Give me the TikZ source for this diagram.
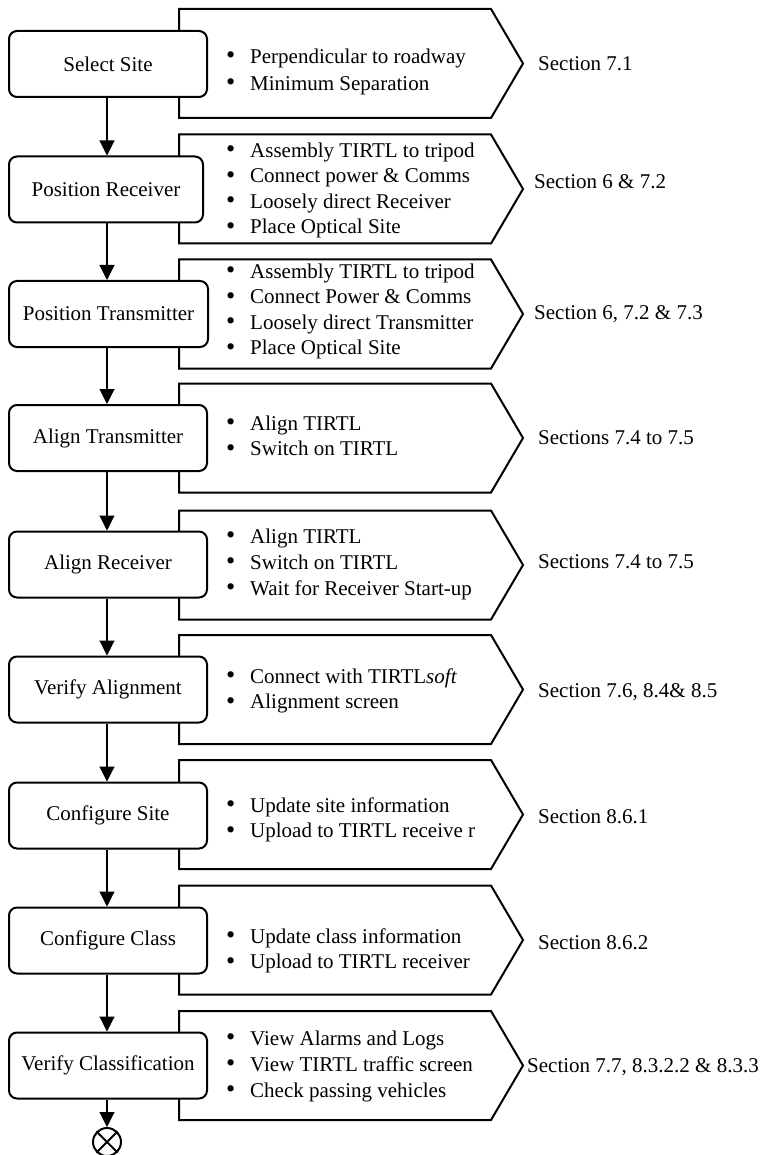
\documentclass[tikz,border=0pt]{standalone}
\usepackage{fontspec}
\setmainfont{Liberation Serif}
\usetikzlibrary{arrows.meta,calc}
\tikzset{
 stepbox/.style={draw, line width=2pt, fill=white, rounded corners=8pt, minimum height=66pt, inner sep=0pt, font=\fontsize{21}{25.5}\selectfont},
 chevron/.style={draw, line width=2pt, fill=white, line join=miter},
 blist/.style={anchor=north west, inner sep=0pt, align=left, font=\fontsize{21}{25.5}\selectfont},
 sect/.style={anchor=base west, inner sep=0pt, font=\fontsize{21}{25.5}\selectfont},
 flow/.style={draw, line width=1.1pt, -{Triangle[width=15pt,length=15pt]}},
 endmark/.style={draw, circle, line width=2pt, minimum size=28pt, inner sep=0pt},
}
\newcommand\bul{\makebox[24pt][l]{\raisebox{-0.5pt}{\scalebox{1.25}{\textbullet}}}}
\newcommand\fl{\rule{0pt}{16pt}}
\newcommand\chevshape[1]{\draw[chevron] (179,#1-54.5) -- (491,#1-54.5) -- (523,#1) -- (491,#1+54.5) -- (179,#1+54.5) -- cycle;}
\begin{document}
\begin{tikzpicture}[x=1pt,y=-1pt]
\useasboundingbox (0,0) rectangle (763,1155);

% row 1
\chevshape{63.5}
\node[stepbox, minimum width=198pt] (s1) at (108,64) {Select Site};
\node[blist, font=\fontsize{21}{26.7}\selectfont] (b1) at (226,63.3-16) {\fl\bul Perpendicular to roadway\\\bul Minimum Separation};
\node[sect] (t1) at (538,71) {Section 7.1};

% row 2
\chevshape{189}
\node[stepbox, minimum width=194pt] (s2) at (106,189.5) {Position Receiver};
\node[blist] (b2) at (226,157-16) {\fl\bul Assembly TIRTL to tripod\\\bul Connect power \& Comms\\\bul Loosely direct Receiver\\\bul Place Optical Site};
\node[sect] (t2) at (534,189) {Section 6 \& 7.2};

% row 3
\chevshape{314}
\node[stepbox, minimum width=199pt] (s3) at (108.5,314) {Position Transmitter};
\node[blist] (b3) at (226,278-16) {\fl\bul Assembly TIRTL to tripod\\\bul Connect Power \& Comms\\\bul Loosely direct Transmitter\\\bul Place Optical Site};
\node[sect] (t3) at (534,319) {Section 6, 7.2 \& 7.3};

% row 4
\chevshape{438}
\node[stepbox, minimum width=198pt] (s4) at (108,438) {Align Transmitter};
\node[blist] (b4) at (226,430-16) {\fl\bul Align TIRTL\\\bul Switch on TIRTL};
\node[sect] (t4) at (538,444) {Sections 7.4 to 7.5};

% row 5
\chevshape{565}
\node[stepbox, minimum width=198pt] (s5) at (108,564.5) {Align Receiver};
\node[blist, font=\fontsize{21}{26}\selectfont] (b5) at (226,543-16) {\fl\bul Align TIRTL\\\bul Switch on TIRTL\\\bul Wait for Receiver Start-up};
\node[sect] (t5) at (538,568) {Sections 7.4 to 7.5};

% row 6
\chevshape{689.5}
\node[stepbox, minimum width=198pt] (s6) at (108,689.5) {Verify Alignment};
\node[blist] (b6) at (226,683-16) {\fl\bul Connect with TIRTL\textit{soft}\\\bul Alignment screen};
\node[sect] (t6) at (538,697) {Section 7.6, 8.4\& 8.5};

% row 7
\chevshape{814.5}
\node[stepbox, minimum width=198pt] (s7) at (108,815.5) {Configure Site};
\node[blist] (b7) at (226,812-16) {\fl\bul Update site information\\\bul Upload to TIRTL receive r};
\node[sect] (t7) at (538,823) {Section 8.6.1};

% row 8
\chevshape{940}
\node[stepbox, minimum width=198pt] (s8) at (108,940.5) {Configure Class};
\node[blist] (b8) at (226,943-16) {\fl\bul Update class information\\\bul Upload to TIRTL receiver};
\node[sect] (t8) at (538,949) {Section 8.6.2};

% row 9
\chevshape{1065.5}
\node[stepbox, minimum width=198pt] (s9) at (108,1065.5) {Verify Classification};
\node[blist, font=\fontsize{21}{26}\selectfont] (b9) at (226,1045-16) {\fl\bul View Alarms and Logs\\\bul View TIRTL traffic screen\\\bul Check passing vehicles};
\node[sect] (t9) at (527,1072) {Section 7.7, 8.3.2.2 \& 8.3.3};

% end marker
\node[endmark] (end) at (107,1142) {};
\draw[line width=2pt] (end.45) -- (end.225) (end.135) -- (end.315);

% connectors
\draw[flow] (s1.south -| end.center) -- (s2.north -| end.center);
\draw[flow] (s2.south -| end.center) -- (s3.north -| end.center);
\draw[flow] (s3.south -| end.center) -- (s4.north -| end.center);
\draw[flow] (s4.south -| end.center) -- (s5.north -| end.center);
\draw[flow] (s5.south -| end.center) -- (s6.north -| end.center);
\draw[flow] (s6.south -| end.center) -- (s7.north -| end.center);
\draw[flow] (s7.south -| end.center) -- (s8.north -| end.center);
\draw[flow] (s8.south -| end.center) -- (s9.north -| end.center);
\draw[flow] (s9.south -| end.center) -- (end.north);
\end{tikzpicture}
\end{document}
